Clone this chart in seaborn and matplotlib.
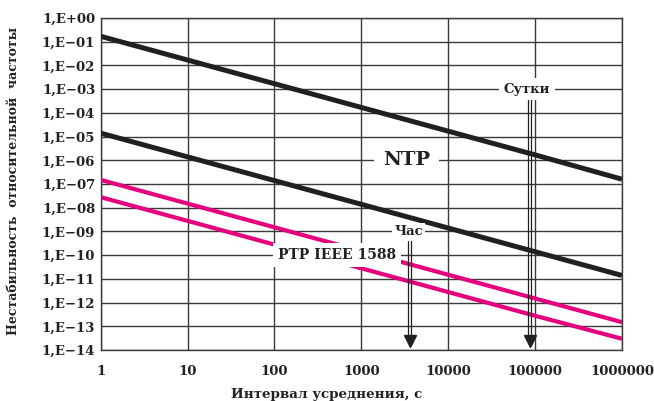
import matplotlib
matplotlib.use("Agg")
import matplotlib.pyplot as plt
import matplotlib.ticker as mticker
import seaborn as sns
import pandas as pd

# averaging interval, s (decades)
tau = [1, 10, 100, 1000, 10000, 100000, 1000000]

# relative frequency instability
ntp_upper = [1.7e-1, 1.7e-2, 1.7e-3, 1.7e-4, 1.7e-5, 1.7e-6, 1.6e-7]
ntp_lower = [1.4e-5, 1.4e-6, 1.4e-7, 1.4e-8, 1.4e-9, 1.4e-10, 1.4e-11]
ptp_upper = [1.5e-7, 1.5e-8, 1.5e-9, 1.5e-10, 1.5e-11, 1.5e-12, 1.5e-13]
ptp_lower = [2.8e-8, 2.8e-9, 2.8e-10, 2.8e-11, 2.8e-12, 2.8e-13, 3.0e-14]

hour = 3600
day = 86400

y_ticks = [10.0 ** -k for k in range(0, 15)]
y_labels = ["1,E+00"] + ["1,E\u2212%02d" % k for k in range(1, 15)]
x_ticks = tau
x_labels = ["1", "10", "100", "1000", "10000", "100000", "1000000"]

BLACK = "#231f20"
MAGENTA = "#e5007d"
GRID = "#3a3a3a"
TEXT = "#222222"

sns.set_theme(style="white")
plt.rcParams["font.family"] = ["DejaVu Serif"]
plt.rcParams["font.weight"] = "bold"

fig, ax = plt.subplots(figsize=(6.54, 4.01), dpi=100)
fig.subplots_adjust(left=0.154, right=0.951, top=0.955, bottom=0.127)

df = pd.DataFrame({"tau": tau, "a": ntp_upper, "b": ntp_lower,
                   "c": ptp_upper, "d": ptp_lower})
for col, color, lw in [("a", BLACK, 3.6), ("b", BLACK, 3.6),
                       ("c", MAGENTA, 3.0), ("d", MAGENTA, 3.0)]:
    sns.lineplot(data=df, x="tau", y=col, color=color, lw=lw, ax=ax,
                 zorder=3, solid_capstyle="butt")

ax.set_xscale("log")
ax.set_yscale("log")
ax.set_xlim(1, 1e6)
ax.set_ylim(1e-14, 1)
ax.set_xticks(x_ticks)
ax.set_xticklabels(x_labels)
ax.set_yticks(y_ticks)
ax.set_yticklabels(y_labels)
ax.xaxis.set_minor_locator(mticker.NullLocator())
ax.yaxis.set_minor_locator(mticker.NullLocator())
ax.tick_params(axis="both", length=0, labelsize=9.5, colors=TEXT)
ax.tick_params(axis="x", pad=11)
ax.tick_params(axis="y", pad=4)
for lab in ax.get_xticklabels() + ax.get_yticklabels():
    lab.set_fontweight("bold")

ax.grid(True, color=GRID, lw=1.0, zorder=1)
for s in ax.spines.values():
    s.set_color(GRID)
    s.set_linewidth(1.0)

ax.set_xlabel("Интервал усреднения, с", fontsize=9.7, fontweight="bold", color=TEXT)
ax.xaxis.set_label_coords(0.434, -0.115)
ax.set_ylabel("Нестабильность  относительной  частоты", fontsize=9,
              fontweight="bold", color=TEXT)
ax.yaxis.set_label_coords(-0.154, 0.509)

# double-shaft arrows for hour and day
arrow_bottom = 2.3e-14
for x0, y_top in [(hour, 4e-10), (day, 4.7e-4)]:
    for f in (1 / 1.04, 1.04):
        ax.plot([x0 * f, x0 * f], [y_top, arrow_bottom], color=BLACK, lw=0.9, zorder=4)
    ax.plot([x0], [arrow_bottom], marker="v", markersize=8, color=BLACK, zorder=5)

box = dict(boxstyle="square,pad=0.35", fc="white", ec="none")
ax.text(day * 0.93, 1e-3, "Сутки", ha="center", va="center", fontsize=9.5,
        fontweight="bold", color=TEXT, bbox=box, zorder=6)
ax.text(3300, 1e-6, "NTP", ha="center", va="center", fontsize=14,
        fontweight="bold", color=TEXT,
        bbox=dict(boxstyle="square,pad=0.45", fc="white", ec="none"), zorder=6)
ax.text(520, 1e-10, "PTP IEEE 1588", ha="center", va="center", fontsize=10,
        fontweight="bold", color=TEXT, bbox=box, zorder=6)
ax.text(3500, 1e-9, "Час", ha="center", va="center", fontsize=9.5,
        fontweight="bold", color=TEXT,
        bbox=dict(boxstyle="square,pad=0.15", fc="white", ec="none"), zorder=6)

fig.savefig("out.png", dpi=100)
